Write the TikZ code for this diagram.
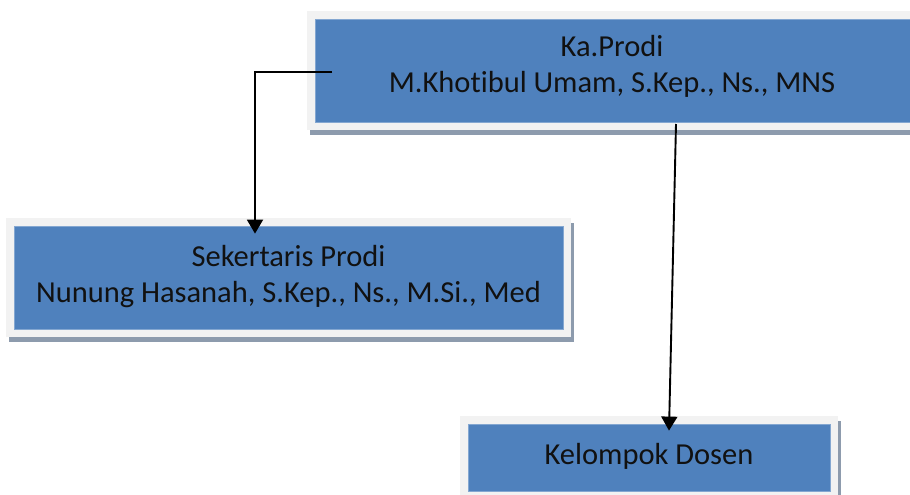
\documentclass[tikz,border=0pt]{standalone}
\usepackage{fontspec}
\setmainfont{Carlito}[Ligatures=NoCommon]
\usetikzlibrary{arrows.meta}
\definecolor{boxblue}{HTML}{4F81BD}
\definecolor{framegray}{HTML}{F2F2F2}
\definecolor{shadowgray}{HTML}{8D9BAD}
\definecolor{inkblack}{HTML}{111111}
\tikzset{
  orgbox/.style={
    preaction={draw=shadowgray, fill=shadowgray, line width=16pt,
      transform canvas={xshift=3pt, yshift=-5pt}},
    preaction={draw=framegray, line width=16pt},
    fill=boxblue, draw=boxblue!70!white, line width=0.8pt,
    inner sep=0pt
  },
  boxtext/.style={align=center, text=inkblack, inner sep=0pt,
    font=\fontsize{30.5}{36}\selectfont},
  link/.style={draw=black, line width=1.9pt,
    -{Triangle[length=14pt, width=16pt]}}
}
\begin{document}
\begin{tikzpicture}[x=1pt, y=-1pt]
  \clip (0,0) rectangle (910,495);
  \fill[white] (0,0) rectangle (910,495);

  % head of the study programme
  \node[orgbox, minimum width=603pt, minimum height=103pt,
    label={[boxtext, xshift=-4.5pt, yshift=4pt]center:Ka.Prodi\\M.Khotibul Umam, S.Kep., Ns., MNS}]
    (kaprodi) at (616.5,70.5) {};

  % secretary
  \node[orgbox, minimum width=549pt, minimum height=103pt,
    label={[boxtext, yshift=1pt]center:Sekertaris Prodi\\Nunung Hasanah, S.Kep., Ns., M.Si., Med}]
    (sekretaris) at (288.5,277.5) {};

  % lecturer group
  \node[orgbox, minimum width=362pt, minimum height=67pt,
    label={[boxtext, yshift=1pt]center:Kelompok Dosen}]
    (dosen) at (649,457.5) {};

  % connectors
  \coordinate (kaLeft) at (332,72);
  \coordinate (kaBottom) at (676,124);
  \draw[link] (kaLeft) -| ([yshift=-8pt]sekretaris.north -| 255,0);
  \draw[link] (kaBottom) -- ([xshift=20pt, yshift=-7pt]dosen.north);
\end{tikzpicture}
\end{document}
